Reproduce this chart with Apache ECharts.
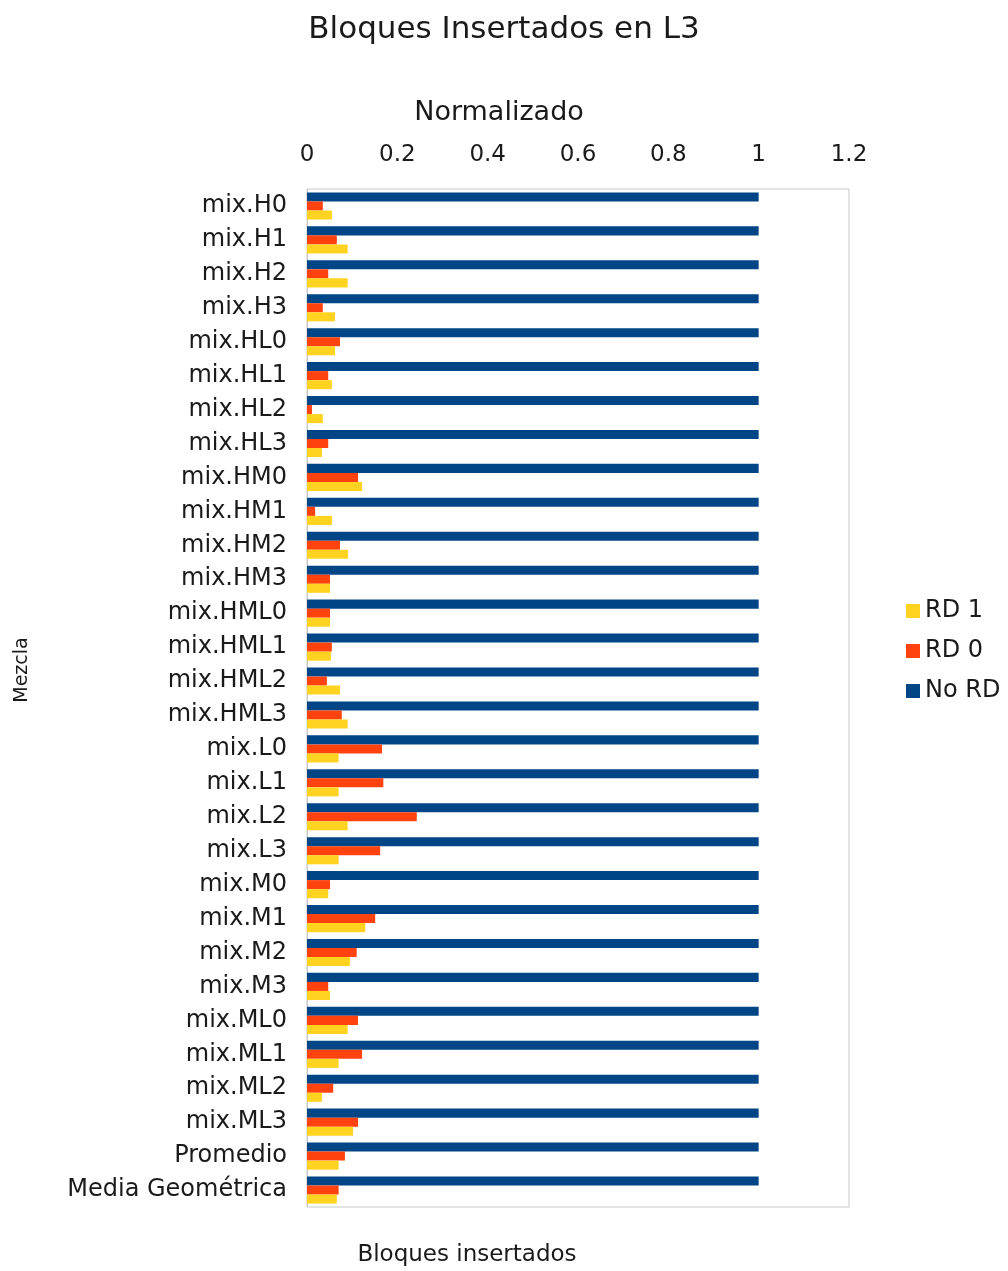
<!DOCTYPE html>
<html>
<head>
<meta charset="utf-8">
<script src="https://cdn.jsdelivr.net/npm/echarts@6/dist/echarts.min.js"></script>
<style>
  html, body { margin: 0; padding: 0; background: #fff; }
  #chart { width: 1008px; height: 1271px; }
</style>
</head>
<body>
<div id="chart"></div>
<script>
// Mixes evaluated, top to bottom
const categories = [
  'mix.H0', 'mix.H1', 'mix.H2', 'mix.H3',
  'mix.HL0', 'mix.HL1', 'mix.HL2', 'mix.HL3',
  'mix.HM0', 'mix.HM1', 'mix.HM2', 'mix.HM3',
  'mix.HML0', 'mix.HML1', 'mix.HML2', 'mix.HML3',
  'mix.L0', 'mix.L1', 'mix.L2', 'mix.L3',
  'mix.M0', 'mix.M1', 'mix.M2', 'mix.M3',
  'mix.ML0', 'mix.ML1', 'mix.ML2', 'mix.ML3',
  'Promedio', 'Media Geométrica'
];

// Inserted L3 blocks, normalised to the No RD baseline
const noRD = [
  1, 1, 1, 1, 1, 1, 1, 1, 1, 1,
  1, 1, 1, 1, 1, 1, 1, 1, 1, 1,
  1, 1, 1, 1, 1, 1, 1, 1, 1, 1
];
const rd0 = [
  0.035, 0.066, 0.047, 0.035,
  0.073, 0.047, 0.011, 0.047,
  0.113, 0.018, 0.073, 0.051,
  0.051, 0.055, 0.044, 0.077,
  0.166, 0.169, 0.243, 0.162,
  0.051, 0.151, 0.110, 0.047,
  0.113, 0.122, 0.058, 0.113,
  0.084, 0.070
];
const rd1 = [
  0.055, 0.090, 0.090, 0.062,
  0.062, 0.055, 0.035, 0.033,
  0.122, 0.055, 0.091, 0.051,
  0.051, 0.053, 0.073, 0.090,
  0.070, 0.070, 0.090, 0.070,
  0.047, 0.129, 0.095, 0.051,
  0.090, 0.070, 0.033, 0.102,
  0.070, 0.066
];

const xTicks = { min: 0, max: 1.2, interval: 0.2 };

const FONT = '"DejaVu Sans", Verdana, sans-serif';
const INK = '#1a1a1a';
const chart = echarts.init(document.getElementById('chart'), null, { renderer: 'canvas' });

chart.setOption({
  animation: false,
  backgroundColor: '#ffffff',
  textStyle: { fontFamily: FONT },
  title: {
    text: 'Bloques Insertados en L3',
    left: 'center',
    top: 9,
    textStyle: { fontFamily: FONT, fontSize: 31, fontWeight: 'normal', color: INK }
  },
  legend: {
    orient: 'vertical',
    left: 901,
    top: 594,
    itemWidth: 14,
    itemHeight: 14,
    itemGap: 16,
    icon: 'rect',
    data: ['RD 1', 'RD 0', 'No RD'],
    textStyle: { fontFamily: FONT, fontSize: 24, color: INK, padding: [0, 0, 0, 0] }
  },
  grid: {
    left: 307,
    right: 159,
    top: 189,
    bottom: 64,
    show: true,
    borderColor: '#c8c8c8',
    borderWidth: 1
  },
  xAxis: {
    type: 'value',
    position: 'top',
    min: xTicks.min,
    max: xTicks.max,
    interval: xTicks.interval,
    axisLine: { show: false },
    axisTick: { show: false },
    splitLine: { show: false },
    axisLabel: {
      fontFamily: FONT,
      fontSize: 23,
      color: INK,
      margin: 22,
      formatter: v => String(Math.round(v * 10) / 10)
    }
  },
  yAxis: {
    type: 'category',
    inverse: true,
    data: categories,
    axisLine: { show: true, lineStyle: { color: '#c8c8c8' } },
    axisTick: { show: false },
    axisLabel: { fontFamily: FONT, fontSize: 24, color: INK, margin: 20 }
  },
  series: [
    {
      name: 'No RD', type: 'bar', data: noRD,
      itemStyle: { color: '#004586' },
      barGap: '0%', barCategoryGap: '20%'
    },
    {
      name: 'RD 0', type: 'bar', data: rd0,
      itemStyle: { color: '#ff420e' }
    },
    {
      name: 'RD 1', type: 'bar', data: rd1,
      itemStyle: { color: '#ffd320' }
    }
  ],
  graphic: [
    {
      type: 'text',
      x: 499,
      y: 113,
      style: {
        text: 'Normalizado', font: '27px ' + FONT, fill: INK,
        textAlign: 'center', textVerticalAlign: 'middle'
      }
    },
    {
      type: 'text',
      x: 22,
      y: 670,
      rotation: Math.PI / 2,
      style: {
        text: 'Mezcla', font: '19px ' + FONT, fill: INK,
        textAlign: 'center', textVerticalAlign: 'middle'
      }
    },
    {
      type: 'text',
      x: 467,
      y: 1255,
      style: {
        text: 'Bloques insertados', font: '23px ' + FONT, fill: INK,
        textAlign: 'center', textVerticalAlign: 'middle'
      }
    }
  ]
});
</script>
</body>
</html>
